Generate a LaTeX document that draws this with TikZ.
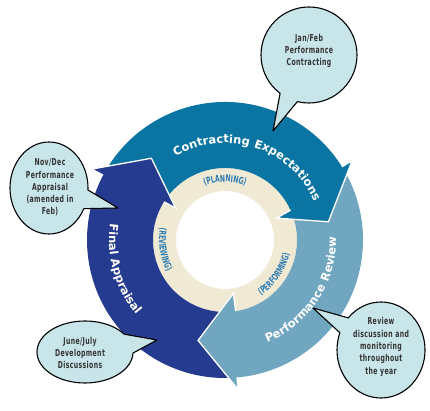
\documentclass[tikz,border=0pt]{standalone}
\usepackage{fontspec}
\setmainfont{DejaVu Sans}
\newfontfamily\arcfont[LetterSpace=6]{DejaVu Sans}
\newfontfamily\callfont[FakeStretch=0.72,LetterSpace=4]{DejaVu Sans Condensed}
\newfontfamily\lblfont[FakeStretch=0.72,LetterSpace=6]{DejaVu Sans Condensed}
\usetikzlibrary{decorations.text,calc}
\definecolor{contract}{RGB}{10,117,163}
\definecolor{finalc}{RGB}{37,59,143}
\definecolor{perf}{RGB}{112,166,191}
\definecolor{beige}{RGB}{240,233,212}
\definecolor{bubble}{RGB}{200,229,234}
\definecolor{lblblue}{RGB}{45,125,180}
\tikzset{
  headline/.style={draw=white, line width=1.3pt},
  bubbleline/.style={draw=black, line width=1.1pt, line join=round},
  calltext/.style={align=center, inner sep=0pt, text=black!80,
    font=\callfont\bfseries\fontsize{9.5}{12.3}\selectfont},
  arctext/.style={decorate, decoration={text along path, text align=center, text color=white,
    text={|\arcfont\bfseries\fontsize{11.5}{12}\selectfont|#1}}},
  ringtext/.style={decorate, decoration={text along path, text align=center, text color=lblblue,
    text={|\lblfont\bfseries\fontsize{9.5}{9.5}\selectfont|#1}}}
}
\begin{document}
\begin{tikzpicture}[x=1pt,y=1pt]
\useasboundingbox (0,0) rectangle (430,411);
\coordinate (C) at (225,171);
\begin{scope}[shift={(C)}]
  % inner ring
  \fill[beige, even odd rule] (0,0) circle[radius=72] (0,0) circle[radius=49];
  % Contracting Expectations
  \fill[contract] (151:138) arc[start angle=151,end angle=32,radius=138] -- (32:150) -- (10:105)
     -- (23:56) -- (24.5:72) arc[start angle=24.5,end angle=148,radius=72] -- cycle;
  % Final Appraisal
  \fill[finalc] (275:138) arc[start angle=275,end angle=152,radius=138] -- (152:151) -- (132:110)
     -- (147:59) -- (148:72) arc[start angle=148,end angle=278.5,radius=72] -- cycle;
  \draw[headline] (152:138) -- (152:151) -- (132:110) -- (147:59) -- (148:72);
  % Performance Review
  \fill[perf] (31:138) arc[start angle=31,end angle=-85,radius=138] -- (-85:150) -- (-105:104)
     -- (-81:54) -- (-81.5:72) arc[start angle=-81.5,end angle=24.5,radius=72] -- cycle;
  \draw[headline] (-85:138) -- (-85:150) -- (-105:104) -- (-81:54) -- (-81.5:72);
  % Contracting head on top
  \fill[contract] (32:138) -- (32:150) -- (10:105) -- (23:56) -- (24.5:72) -- cycle;
  \draw[headline] (32:138) -- (32:150) -- (10:105) -- (23:56) -- (24.5:72);
  % texts on arrows
  \path[arctext=Contracting Expectations] (132:97) arc[start angle=132,end angle=12,radius=97];
  \path[arctext=Performance Review] (-73:111) arc[start angle=-73,end angle=7,radius=111];
  \path[arctext=Final Appraisal] (156:116) arc[start angle=156,end angle=236,radius=116];
  % texts on ring
  \path[ringtext=(PLANNING)] (120:58) arc[start angle=120,end angle=60,radius=58];
  \path[ringtext=(REVIEWING)] (154:66) arc[start angle=154,end angle=224,radius=66];
  \path[ringtext=(PERFORMING)] (-69:66) arc[start angle=-69,end angle=0,radius=66];
\end{scope}

% bubble 1
\coordinate (b1) at (309,356);
\coordinate (p1) at (273,280);
\fill[bubble, bubbleline] (b1) ellipse[x radius=48, y radius=48];
\fill[bubble] ($(b1)+(233:48pt and 48pt)$) -- (p1) -- ($(b1)+(256:48pt and 48pt)$) -- ($(b1)+(244:38pt and 38pt)$) -- cycle;
\draw[bubbleline] ($(b1)+(233:48pt and 48pt)$) -- (p1) -- ($(b1)+(256:48pt and 48pt)$);
\node[calltext] (t1) at (309,360) {Jan/Feb\\Performance\\Contracting};

% bubble 2
\coordinate (b2) at (49,223);
\coordinate (p2) at (118,203);
\fill[bubble, bubbleline] (b2) ellipse[x radius=39, y radius=46];
\fill[bubble] ($(b2)+(-2.5:39pt and 46pt)$) -- (p2) -- ($(b2)+(-26.7:39pt and 46pt)$) -- ($(b2)+(-14:30pt and 36pt)$) -- cycle;
\draw[bubbleline] ($(b2)+(-2.5:39pt and 46pt)$) -- (p2) -- ($(b2)+(-26.7:39pt and 46pt)$);
\node[calltext] (t2) at (50,223.5) {Nov/Dec\\Performance\\Appraisal\\(amended in\\Feb)};

% bubble 3
\coordinate (b3) at (85,59);
\coordinate (p3) at (157,71);
\fill[bubble, bubbleline] (b3) ellipse[x radius=48, y radius=31];
\fill[bubble] ($(b3)+(35:48pt and 31pt)$) -- (p3) -- ($(b3)+(-2:48pt and 31pt)$) -- ($(b3)+(16:38pt and 22pt)$) -- cycle;
\draw[bubbleline] ($(b3)+(35:48pt and 31pt)$) -- (p3) -- ($(b3)+(-2:48pt and 31pt)$);
\node[calltext] (t3) at (80,58) {June/July\\Development\\Discussions};

% bubble 4
\coordinate (b4) at (381,61);
\coordinate (p4) at (313,103);
\fill[bubble, bubbleline] (b4) ellipse[x radius=44, y radius=48];
\fill[bubble] ($(b4)+(138:44pt and 48pt)$) -- (p4) -- ($(b4)+(159:44pt and 48pt)$) -- ($(b4)+(148:34pt and 38pt)$) -- cycle;
\draw[bubbleline] ($(b4)+(138:44pt and 48pt)$) -- (p4) -- ($(b4)+(159:44pt and 48pt)$);
\node[calltext] (t4) at (381,64) {Review\\discussion and\\monitoring\\throughout\\the year};
\end{tikzpicture}
\end{document}
